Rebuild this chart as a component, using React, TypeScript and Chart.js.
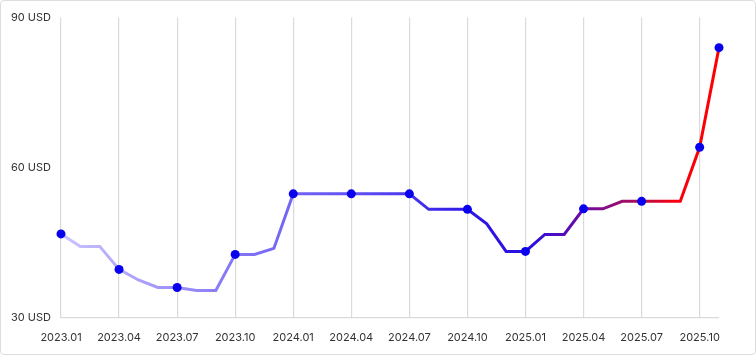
import React, { useEffect, useRef } from "react";
import { Chart, registerables } from "chart.js";

Chart.register(...registerables);

const months: string[] = [
  "2023.01", "2023.02", "2023.03", "2023.04", "2023.05", "2023.06",
  "2023.07", "2023.08", "2023.09", "2023.10", "2023.11", "2023.12",
  "2024.01", "2024.02", "2024.03", "2024.04", "2024.05", "2024.06",
  "2024.07", "2024.08", "2024.09", "2024.10", "2024.11", "2024.12",
  "2025.01", "2025.02", "2025.03", "2025.04", "2025.05", "2025.06",
  "2025.07", "2025.08", "2025.09", "2025.10", "2025.11",
];

const prices: number[] = [
  46.8, 44.3, 44.3, 39.7, 37.6, 36.1,
  36.1, 35.5, 35.5, 42.7, 42.7, 43.9,
  54.8, 54.8, 54.8, 54.8, 54.8, 54.8,
  54.8, 51.7, 51.7, 51.7, 48.8, 43.3,
  43.3, 46.7, 46.7, 51.8, 51.8, 53.3,
  53.3, 53.3, 53.3, 64.1, 84.0,
];

const yTicks: number[] = [30, 60, 90];
const tickEvery = 3;

export default function App() {
  const canvasRef = useRef<HTMLCanvasElement | null>(null);

  useEffect(() => {
    document.body.style.margin = "0";
    const canvas = canvasRef.current;
    if (!canvas) return;
    const lastIdx = prices.length - 1;

    const lineGradient = (ctx: any) => {
      const chart = ctx.chart;
      const area = chart.chartArea;
      if (!area) return "#5544ee";
      const g = chart.ctx.createLinearGradient(area.left, 0, area.right, 0);
      g.addColorStop(0, "#cbc4ff");
      g.addColorStop(0.26, "#8577f5");
      g.addColorStop(0.45, "#5f4ff2");
      g.addColorStop(0.62, "#3018e6");
      g.addColorStop(0.71, "#2a10e0");
      g.addColorStop(0.79, "#6a0aa8");
      g.addColorStop(0.88, "#b00e50");
      g.addColorStop(0.93, "#f80010");
      g.addColorStop(1, "#ff0000");
      return g;
    };

    const chart = new Chart(canvas, {
      type: "line",
      data: {
        labels: months,
        datasets: [
          {
            data: prices,
            borderColor: lineGradient,
            borderWidth: 3,
            tension: 0,
            pointRadius: (c: any) => (c.dataIndex % tickEvery === 0 || c.dataIndex === lastIdx ? 4.5 : 0),
            pointHoverRadius: 5,
            pointBackgroundColor: "#0800ee",
            pointBorderColor: "#0800ee",
            pointBorderWidth: 0,
          },
        ],
      },
      options: {
        animation: false,
        responsive: true,
        maintainAspectRatio: false,
        layout: { padding: { left: 2, right: 36, top: 11, bottom: 0 } },
        plugins: { legend: { display: false }, tooltip: { enabled: false } },
        scales: {
          x: {
            afterFit: (axis: any) => {
              axis.height = 36;
            },
            grid: {
              drawTicks: false,
              color: (c: any) => (c.index % tickEvery === 0 && c.index !== lastIdx ? "#dadada" : "rgba(0,0,0,0)"),
              lineWidth: 1.2,
            },
            border: { display: true, color: "#dadada", width: 1.2 },
            ticks: {
              autoSkip: false,
              maxRotation: 0,
              padding: 13,
              color: "#333333",
              font: { family: "Inter", size: 11 },
              callback: (_v: any, i: number) => (i % tickEvery === 0 && i !== lastIdx ? months[i] : ""),
            },
          },
          y: {
            min: yTicks[0],
            max: yTicks[yTicks.length - 1],
            afterFit: (axis: any) => {
              axis.width = 58;
            },
            afterBuildTicks: (axis: any) => {
              axis.ticks = yTicks.map((v) => ({ value: v }));
            },
            grid: { display: false, drawTicks: false, tickLength: 0 },
            border: { display: false },
            ticks: {
              padding: 10,
              color: "#333333",
              font: { family: "Inter", size: 11 },
              callback: (v: any) => `${v} USD`,
            },
          },
        },
      },
    });
    return () => chart.destroy();
  }, []);

  return (
    <div
      style={{
        width: 756,
        height: 355,
        boxSizing: "border-box",
        border: "1px solid #dddddd",
        borderRadius: 4,
        background: "#ffffff",
        position: "relative",
      }}
    >
      <canvas ref={canvasRef} />
    </div>
  );
}
